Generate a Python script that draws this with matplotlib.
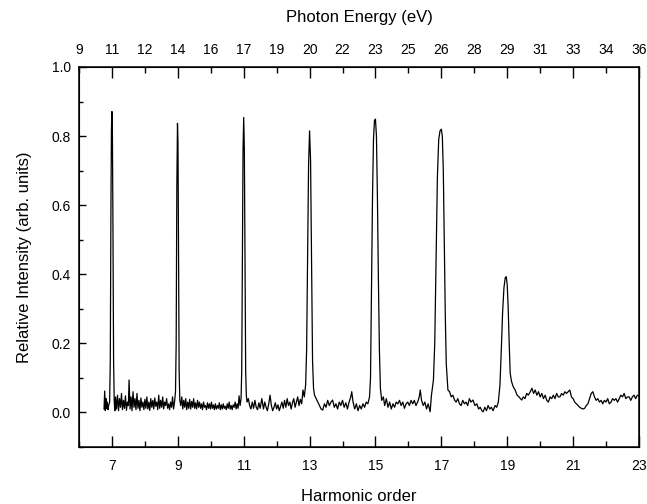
import numpy as np
import matplotlib
matplotlib.use("Agg")
import matplotlib.pyplot as plt
from matplotlib.ticker import MultipleLocator

plt.rcParams['font.family'] = ['Liberation Sans', 'DejaVu Sans']

# spectrum, one segment per harmonic (order, intensity)
seg_h7 = [(6.76, 0.010), (6.78, 0.062), (6.80, 0.005), (6.82, 0.040), (6.84, 0.012),
          (6.86, 0.030), (6.88, 0.008), (6.90, 0.020), (6.93, 0.030), (6.95, 0.150),
          (6.97, 0.600), (6.985, 0.820), (7.00, 0.871), (7.015, 0.800), (7.03, 0.550),
          (7.05, 0.150), (7.07, 0.030), (7.09, 0.005), (7.11, 0.045), (7.14, 0.010),
          (7.17, 0.050), (7.20, 0.005), (7.23, 0.040), (7.26, 0.015), (7.29, 0.055),
          (7.32, 0.008), (7.35, 0.035), (7.38, 0.012), (7.41, 0.048), (7.44, 0.006),
          (7.47, 0.030), (7.50, 0.020), (7.52, 0.094), (7.55, 0.010), (7.58, 0.045),
          (7.61, 0.005), (7.64, 0.060), (7.67, 0.015), (7.70, 0.040), (7.73, 0.008),
          (7.76, 0.055), (7.79, 0.012), (7.82, 0.035), (7.85, 0.005), (7.88, 0.042),
          (7.91, 0.015), (7.94, 0.030), (7.97, 0.008), (8.00, 0.038), (8.03, 0.012),
          (8.06, 0.045), (8.09, 0.010), (8.12, 0.030), (8.15, 0.006), (8.18, 0.040),
          (8.21, 0.015), (8.24, 0.035), (8.27, 0.010), (8.30, 0.042), (8.33, 0.018),
          (8.36, 0.030), (8.39, 0.008), (8.42, 0.050), (8.45, 0.012), (8.48, 0.035),
          (8.51, 0.015), (8.54, 0.045), (8.57, 0.010), (8.60, 0.030), (8.63, 0.020),
          (8.66, 0.040), (8.69, 0.012), (8.72, 0.025), (8.75, 0.008), (8.78, 0.030),
          (8.81, 0.015), (8.84, 0.045), (8.87, 0.010), (8.90, 0.030)]

seg_h9 = [(8.93, 0.060), (8.95, 0.200), (8.97, 0.650), (8.99, 0.837), (9.005, 0.780),
          (9.02, 0.500), (9.04, 0.120), (9.06, 0.035), (9.09, 0.020), (9.12, 0.045),
          (9.15, 0.010), (9.18, 0.035), (9.21, 0.015), (9.24, 0.040), (9.27, 0.008),
          (9.30, 0.030), (9.33, 0.012), (9.36, 0.038), (9.39, 0.010), (9.42, 0.032),
          (9.45, 0.015), (9.48, 0.040), (9.51, 0.012), (9.54, 0.028), (9.57, 0.010),
          (9.60, 0.035), (9.63, 0.015), (9.66, 0.030), (9.69, 0.012), (9.72, 0.025),
          (9.75, 0.008), (9.78, 0.030), (9.81, 0.015), (9.84, 0.020), (9.87, 0.008),
          (9.90, 0.028), (9.93, 0.012), (9.96, 0.025), (9.99, 0.010), (10.02, 0.030),
          (10.05, 0.012), (10.08, 0.022), (10.11, 0.008), (10.14, 0.025), (10.17, 0.010),
          (10.20, 0.020), (10.23, 0.012), (10.26, 0.028), (10.29, 0.008), (10.32, 0.022),
          (10.35, 0.010), (10.38, 0.025), (10.41, 0.012), (10.44, 0.018), (10.47, 0.008),
          (10.50, 0.025), (10.53, 0.012), (10.56, 0.030), (10.59, 0.010), (10.62, 0.020),
          (10.65, 0.008), (10.68, 0.022), (10.71, 0.015), (10.74, 0.030), (10.77, 0.010),
          (10.80, 0.025), (10.83, 0.012), (10.86, 0.048), (10.89, 0.020), (10.92, 0.040)]

seg_h11 = [(10.94, 0.120), (10.96, 0.450), (10.98, 0.760), (11.00, 0.854), (11.02, 0.760),
           (11.04, 0.420), (11.06, 0.120), (11.08, 0.050), (11.10, 0.030), (11.14, 0.040),
           (11.18, 0.020), (11.22, 0.010), (11.26, 0.030), (11.30, 0.012), (11.34, 0.035),
           (11.38, 0.015), (11.42, 0.008), (11.46, 0.028), (11.50, 0.012), (11.55, 0.040),
           (11.60, 0.010), (11.64, 0.030), (11.68, 0.015), (11.72, 0.005), (11.76, 0.025),
           (11.80, 0.050), (11.84, 0.020), (11.88, 0.005), (11.92, 0.015), (11.96, 0.028),
           (12.00, 0.010), (12.04, 0.022), (12.08, 0.005), (12.12, 0.018), (12.16, 0.030),
           (12.20, 0.012), (12.24, 0.035), (12.28, 0.015), (12.32, 0.040), (12.36, 0.020),
           (12.40, 0.030), (12.44, 0.010), (12.48, 0.028), (12.52, 0.040), (12.56, 0.015),
           (12.60, 0.030), (12.64, 0.045), (12.68, 0.020), (12.72, 0.038), (12.76, 0.025),
           (12.80, 0.065), (12.84, 0.045), (12.88, 0.080)]

seg_h13 = [(12.91, 0.180), (12.94, 0.450), (12.97, 0.720), (13.00, 0.815), (13.03, 0.730),
           (13.06, 0.450), (13.09, 0.150), (13.12, 0.070), (13.15, 0.050), (13.19, 0.042),
           (13.25, 0.030), (13.30, 0.020), (13.35, 0.010), (13.40, 0.007), (13.45, 0.025),
           (13.50, 0.015), (13.55, 0.035), (13.60, 0.020), (13.65, 0.030), (13.70, 0.036),
           (13.75, 0.015), (13.80, 0.025), (13.85, 0.010), (13.90, 0.030), (13.95, 0.020),
           (14.00, 0.035), (14.05, 0.015), (14.10, 0.028), (14.15, 0.010), (14.20, 0.030),
           (14.25, 0.045), (14.28, 0.060), (14.32, 0.030), (14.37, 0.010), (14.42, 0.025),
           (14.47, 0.005), (14.52, 0.020), (14.57, 0.010), (14.62, 0.025), (14.67, 0.015),
           (14.72, 0.030), (14.77, 0.025), (14.82, 0.045)]

seg_h15 = [(14.85, 0.100), (14.88, 0.350), (14.91, 0.620), (14.94, 0.790), (14.97, 0.845),
           (15.00, 0.849), (15.03, 0.800), (15.06, 0.620), (15.09, 0.380), (15.12, 0.180),
           (15.15, 0.070), (15.19, 0.035), (15.24, 0.045), (15.28, 0.020), (15.33, 0.040),
           (15.38, 0.015), (15.43, 0.030), (15.48, 0.010), (15.53, 0.025), (15.58, 0.015),
           (15.63, 0.030), (15.68, 0.025), (15.73, 0.035), (15.78, 0.020), (15.83, 0.030),
           (15.88, 0.012), (15.93, 0.025), (15.98, 0.030), (16.03, 0.020), (16.08, 0.035),
           (16.13, 0.025), (16.18, 0.035), (16.23, 0.020), (16.28, 0.030), (16.33, 0.045),
           (16.36, 0.065), (16.40, 0.035), (16.45, 0.020), (16.50, 0.030), (16.55, 0.010),
           (16.60, 0.025), (16.66, 0.002), (16.70, 0.050), (16.76, 0.094)]

seg_h17 = [(16.80, 0.200), (16.84, 0.450), (16.88, 0.680), (16.92, 0.790), (16.96, 0.815),
           (17.00, 0.820), (17.03, 0.800), (17.06, 0.700), (17.09, 0.500), (17.12, 0.280),
           (17.15, 0.140), (17.20, 0.065), (17.25, 0.060), (17.30, 0.045), (17.35, 0.050),
           (17.40, 0.036), (17.45, 0.030), (17.50, 0.040), (17.55, 0.025), (17.60, 0.020),
           (17.65, 0.035), (17.70, 0.025), (17.75, 0.030), (17.80, 0.020), (17.85, 0.040),
           (17.90, 0.030), (17.96, 0.036), (18.02, 0.020), (18.08, 0.025), (18.13, 0.010),
           (18.18, 0.015), (18.23, 0.005), (18.27, 0.002), (18.32, 0.015), (18.37, 0.005),
           (18.42, 0.020), (18.47, 0.010), (18.52, 0.015), (18.57, 0.005), (18.63, 0.020),
           (18.68, 0.015), (18.73, 0.030)]

seg_h19 = [(18.78, 0.080), (18.82, 0.180), (18.86, 0.290), (18.90, 0.360), (18.94, 0.390),
           (18.97, 0.393), (19.00, 0.370), (19.03, 0.300), (19.06, 0.200), (19.09, 0.114),
           (19.13, 0.090), (19.18, 0.075), (19.24, 0.065), (19.30, 0.050), (19.36, 0.045),
           (19.40, 0.040), (19.44, 0.036), (19.49, 0.045), (19.54, 0.040), (19.59, 0.055),
           (19.64, 0.050), (19.70, 0.060), (19.75, 0.070), (19.80, 0.055), (19.85, 0.065),
           (19.90, 0.050), (19.95, 0.060), (20.00, 0.045), (20.05, 0.055), (20.10, 0.040),
           (20.15, 0.050), (20.20, 0.035), (20.25, 0.030), (20.30, 0.045), (20.35, 0.040),
           (20.40, 0.050), (20.45, 0.040), (20.50, 0.055), (20.55, 0.045), (20.60, 0.045),
           (20.65, 0.055), (20.70, 0.050), (20.75, 0.060), (20.80, 0.055), (20.85, 0.060),
           (20.90, 0.065), (20.95, 0.045), (21.00, 0.040), (21.05, 0.030), (21.10, 0.025),
           (21.15, 0.020), (21.20, 0.015), (21.25, 0.012), (21.30, 0.010), (21.35, 0.012),
           (21.40, 0.020), (21.45, 0.025), (21.50, 0.040), (21.55, 0.055), (21.60, 0.060),
           (21.65, 0.045), (21.70, 0.035), (21.75, 0.040), (21.80, 0.030), (21.85, 0.035),
           (21.90, 0.025), (21.95, 0.035), (22.00, 0.030), (22.05, 0.040), (22.10, 0.025),
           (22.15, 0.030), (22.20, 0.040), (22.25, 0.035), (22.30, 0.040), (22.35, 0.030),
           (22.40, 0.040), (22.45, 0.050), (22.50, 0.045), (22.55, 0.055), (22.60, 0.040),
           (22.65, 0.045), (22.70, 0.045), (22.75, 0.035), (22.80, 0.045), (22.85, 0.050),
           (22.90, 0.040), (22.95, 0.050), (23.00, 0.048)]

# axis ticks / labels
harmonic_ticks = [7, 9, 11, 13, 15, 17, 19, 21, 23]
top_positions = [6, 7, 8, 9, 10, 11, 12, 13, 14, 15, 16, 17, 18, 19, 20, 21, 22, 23]
energy_labels = ['9', '11', '12', '14', '16', '17', '19', '20', '22', '23',
                 '25', '26', '28', '29', '31', '33', '34', '36']
intensity_ticks = [0.0, 0.2, 0.4, 0.6, 0.8, 1.0]

trace = np.array(seg_h7 + seg_h9 + seg_h11 + seg_h13 + seg_h15 + seg_h17 + seg_h19)

fig = plt.figure(figsize=(6.47, 5.04), dpi=100)
ax = fig.add_axes([0.1221, 0.1131, 0.8655, 0.754])
ax.plot(trace[:, 0], trace[:, 1], color='black', lw=0.9)

ax.set_xlim(6, 23)
ax.set_ylim(-0.1, 1.0)
ax.set_xticks(harmonic_ticks)
ax.xaxis.set_minor_locator(MultipleLocator(1))
ax.set_yticks(intensity_ticks)
ax.set_yticklabels([f'{v:.1f}' for v in intensity_ticks])
ax.yaxis.set_minor_locator(MultipleLocator(0.1))
ax.tick_params(axis='x', which='major', direction='in', length=8, width=1, labelsize=10, pad=9)
ax.tick_params(axis='x', which='minor', direction='in', length=4, width=1)
ax.tick_params(axis='y', which='major', direction='in', length=5, width=1, labelsize=10, pad=6)
ax.tick_params(axis='y', which='minor', direction='in', length=3, width=1)
ax.set_xlabel('Harmonic order', fontsize=12, labelpad=11)
ax.set_ylabel('Relative Intensity (arb. units)', fontsize=12, labelpad=14)
for s in ax.spines.values():
    s.set_linewidth(1.1)

top = ax.twiny()
top.set_xlim(ax.get_xlim())
top.set_xticks(top_positions)
top.set_xticklabels(energy_labels)
top.tick_params(axis='x', which='major', direction='in', length=6, width=1, labelsize=10, pad=7)
top.set_xlabel('Photon Energy (eV)', fontsize=12, labelpad=15)

# longer ticks on the odd harmonics, as in the original
for pos, t in zip(top_positions, top.xaxis.get_major_ticks()):
    if pos % 2 == 1:
        t.tick2line.set_markersize(8)
    else:
        t.tick2line.set_markersize(4)

fig.savefig('out.png', dpi=100)
